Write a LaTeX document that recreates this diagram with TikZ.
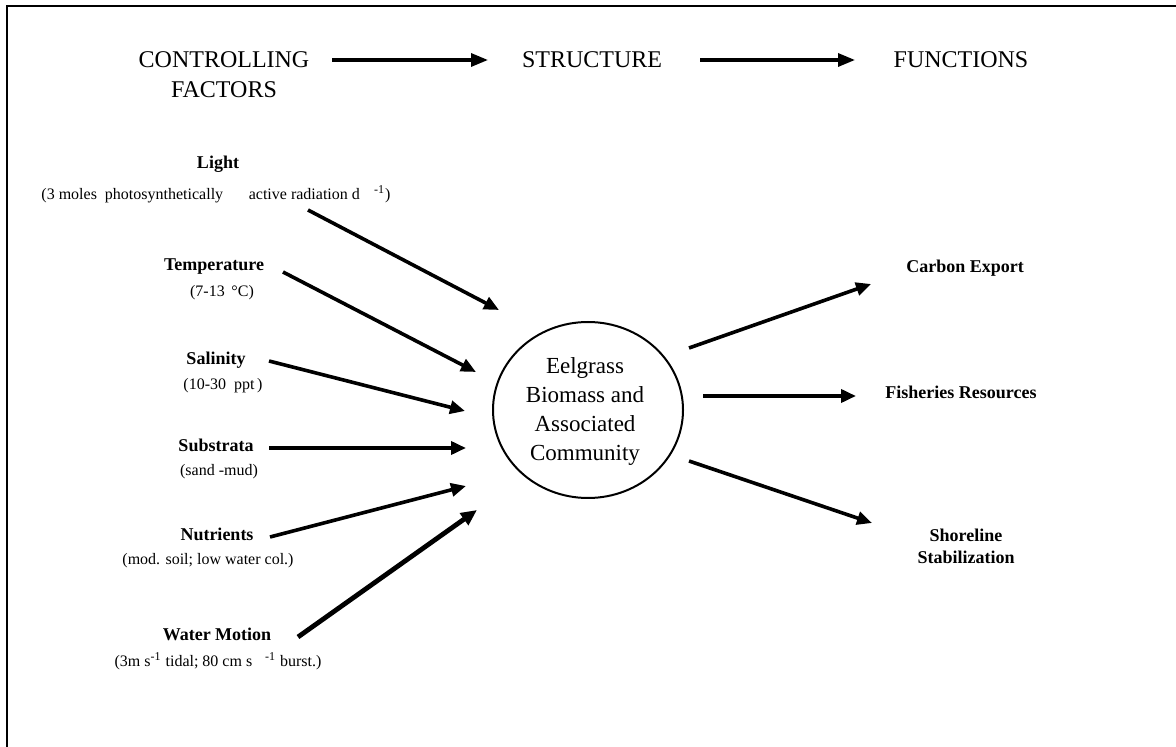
\documentclass[tikz,border=0pt]{standalone}
\usepackage{fontspec}
\setmainfont{Liberation Serif}
\usetikzlibrary{arrows.meta,shapes.geometric}
\tikzset{
  hdr/.style={font=\fontsize{12}{15}\selectfont, inner sep=0pt},
  lbl/.style={font=\bfseries\fontsize{9}{11}\selectfont, inner sep=0pt},
  sub/.style={font=\fontsize{8}{10}\selectfont, inner sep=0pt},
  ctext/.style={font=\fontsize{11.5}{14.5}\selectfont, align=center, inner sep=0pt},
  hdrarrow/.style={line width=1.6pt, -{Triangle[length=8.5pt,width=6.5pt]}},
  inarrow/.style={line width=1.8pt, -{Triangle[length=7.5pt,width=6.5pt]}},
  thickarrow/.style={line width=2.4pt, -{Triangle[length=8pt,width=7pt]}},
}
\begin{document}
\begin{tikzpicture}[x=0.5pt,y=-0.5pt]
\useasboundingbox (0,0) rectangle (1176,747);
% frame (left and top only)
\draw[line width=1pt] (7,747) -- (7,6.5) -- (1176,6.5);

% header
\node[hdr, align=center] (cf) at (224,75) {CONTROLLING\\FACTORS};
\node[hdr] (st) at (592,59.5) {STRUCTURE};
\node[hdr] (fn) at (961,59.5) {FUNCTIONS};
\coordinate (h1a) at (332,60);
\coordinate (h1b) at (488,60);
\coordinate (h2a) at (700,60);
\coordinate (h2b) at (855,60);
\draw[hdrarrow] (h1a) -- (h1b);
\draw[hdrarrow] (h2a) -- (h2b);

% central ellipse
\node[ellipse, draw, line width=1pt, minimum width=95pt, minimum height=88pt, inner sep=0pt] (c) at (588,410) {};
\node[ctext] (ct) at (585,412) {Eelgrass\\Biomass and\\Associated\\Community};

% controlling factors
\node[lbl] (light) at (218,164) {Light};
\node[sub] (lightv) at (216,194) {(3 moles\ \ photosynthetically\hspace{1.6em}active radiation d\hspace{0.9em}\textsuperscript{-1})};
\node[lbl] (temp) at (214,267) {Temperature};
\node[sub] (tempv) at (222,293) {(7-13 \,°C)};
\node[lbl] (sal) at (216,360) {Salinity};
\node[sub] (salv) at (223,386) {(10-30 \ ppt\,)};
\node[lbl] (subs) at (216,445) {Substrata};
\node[sub] (subsv) at (219,472) {(sand -mud)};
\node[lbl] (nut) at (217,534) {Nutrients};
\node[sub] (nutv) at (208,561) {(mod. soil; low water col.)};
\node[lbl] (wm) at (217,634) {Water Motion};
\node[sub] (wmv) at (218,661) {(3m s\textsuperscript{-1}\ tidal; 80 cm s\hspace{0.8em}\textsuperscript{-1} burst.)};

\coordinate (l1) at (308,210);  \coordinate (e1) at (499,310);
\coordinate (l2) at (283,272);  \coordinate (e2) at (476,372);
\coordinate (l3) at (269,361);  \coordinate (e3) at (465,411);
\coordinate (l4) at (269,448);  \coordinate (e4) at (466,448);
\coordinate (l5) at (270,537);  \coordinate (e5) at (466,486);
\coordinate (l6) at (298,637);  \coordinate (e6) at (477,510);
\draw[inarrow] (l1) -- (e1);
\draw[inarrow] (l2) -- (e2);
\draw[inarrow] (l3) -- (e3);
\draw[inarrow] (l4) -- (e4);
\draw[inarrow] (l5) -- (e5);
\draw[thickarrow] (l6) -- (e6);

% functions
\node[lbl] (carb) at (965,268) {Carbon Export};
\node[lbl] (fish) at (961,392) {Fisheries Resources};
\node[lbl, align=center] (shore) at (966,546) {Shoreline\\Stabilization};
\coordinate (r1) at (689,348);  \coordinate (f1) at (871,284);
\coordinate (r2) at (703,396);  \coordinate (f2) at (856,396);
\coordinate (r3) at (689,461);  \coordinate (f3) at (872,523);
\draw[inarrow] (r1) -- (f1);
\draw[inarrow] (r2) -- (f2);
\draw[inarrow] (r3) -- (f3);
\end{tikzpicture}
\end{document}
